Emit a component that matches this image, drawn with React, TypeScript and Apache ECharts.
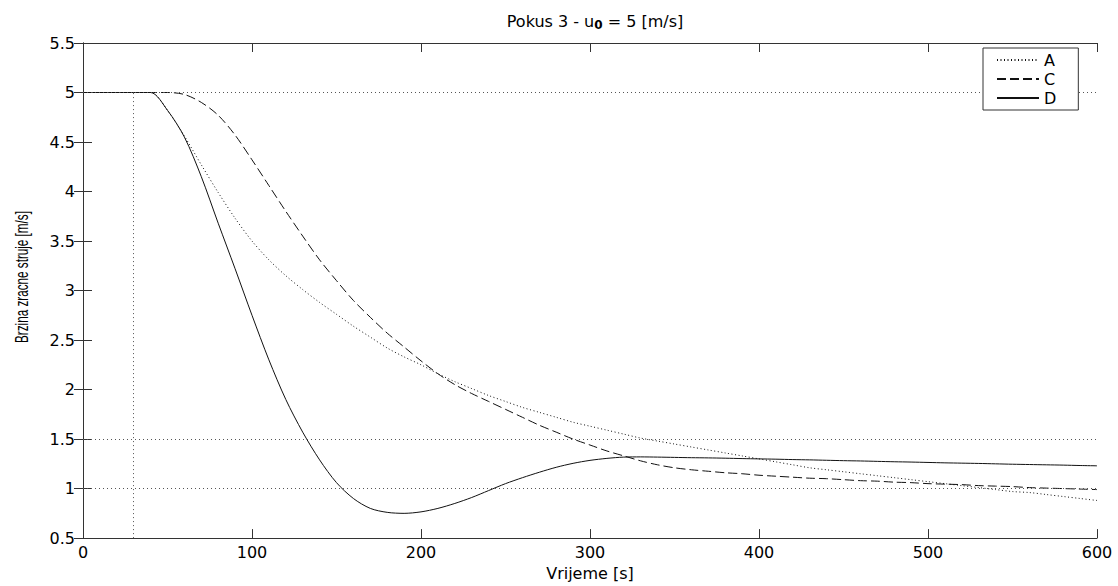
import React, { useEffect, useRef } from "react";
import * as echarts from "echarts";

const time = [0, 10, 20, 30, 40, 50, 60, 70, 80, 90, 100, 110, 120, 130, 140, 150, 160, 170, 180, 190, 200, 210, 220, 230, 240, 250, 260, 270, 280, 290, 300, 310, 320, 330, 340, 350, 360, 370, 380, 390, 400, 410, 420, 430, 440, 450, 460, 470, 480, 490, 500, 510, 520, 530, 540, 550, 560, 570, 580, 590, 600];
const seriesA = [5, 5, 5, 5, 5, 4.82, 4.56, 4.27, 3.99, 3.73, 3.5, 3.31, 3.15, 3.01, 2.88, 2.76, 2.64, 2.53, 2.42, 2.33, 2.25, 2.16, 2.08, 2.01, 1.94, 1.88, 1.82, 1.77, 1.72, 1.67, 1.63, 1.59, 1.55, 1.51, 1.48, 1.45, 1.42, 1.39, 1.36, 1.33, 1.3, 1.27, 1.24, 1.21, 1.19, 1.17, 1.15, 1.13, 1.11, 1.09, 1.07, 1.05, 1.03, 1.01, 0.99, 0.97, 0.96, 0.94, 0.92, 0.9, 0.88];
const seriesC = [5, 5, 5, 5, 5, 5, 4.98, 4.9, 4.77, 4.57, 4.32, 4.06, 3.8, 3.55, 3.31, 3.1, 2.9, 2.73, 2.57, 2.43, 2.29, 2.16, 2.05, 1.96, 1.88, 1.8, 1.72, 1.64, 1.57, 1.5, 1.44, 1.38, 1.33, 1.28, 1.24, 1.21, 1.19, 1.175, 1.16, 1.15, 1.135, 1.125, 1.115, 1.105, 1.1, 1.09, 1.08, 1.075, 1.065, 1.06, 1.05, 1.045, 1.04, 1.03, 1.025, 1.02, 1.01, 1.005, 1.0, 0.995, 0.99];
const seriesD = [5, 5, 5, 5, 5, 4.82, 4.55, 4.15, 3.68, 3.22, 2.75, 2.3, 1.9, 1.57, 1.29, 1.06, 0.9, 0.8, 0.76, 0.75, 0.765, 0.8, 0.85, 0.91, 0.98, 1.05, 1.11, 1.165, 1.215, 1.255, 1.285, 1.305, 1.318, 1.32, 1.318, 1.315, 1.312, 1.31, 1.307, 1.303, 1.3, 1.297, 1.293, 1.29, 1.286, 1.282, 1.279, 1.275, 1.271, 1.268, 1.264, 1.26, 1.257, 1.254, 1.25, 1.246, 1.243, 1.24, 1.237, 1.233, 1.23];
const seriesNames = ["A", "C", "D"];
const refLevels = [5, 1.5, 1];
const startTime = 30;
const xTicks = { min: 0, max: 600, interval: 100 };
const yTicks = { min: 0.5, max: 5.5, interval: 0.5 };

const FONT = "DejaVu Sans";

export default function App() {
  const ref = useRef<HTMLDivElement>(null);
  useEffect(() => {
    if (!ref.current) return;
    const chart = echarts.init(ref.current, undefined, { renderer: "svg" });
    const zip = (ys: number[]) => time.map((t, i) => [t, ys[i]]);
    const axisLine = { show: true, lineStyle: { color: "#333", width: 1 } };
    const axisTick = { show: true, inside: true, length: 9, lineStyle: { color: "#333", width: 1 } };
    const refStyle = { color: "#555", width: 1, type: [1, 3] as any };
    const lineSeries = (name: string, ys: number[], type: any) => ({
      name,
      type: "line",
      data: zip(ys),
      showSymbol: false,
      symbol: "none",
      smooth: 0.3,
      lineStyle: { color: "#111", width: 1, type },
      itemStyle: { color: "#111" },
      z: 3,
    });
    chart.setOption({
      animation: false,
      backgroundColor: "#fff",
      title: {
        text: "{a|Pokus 3 - u}{s|0}{a| = 5 [m/s]}",
        left: 590,
        textAlign: "center",
        top: 6,
        textStyle: {
          fontWeight: "normal",
          rich: {
            a: { fontFamily: FONT, fontSize: 16, fontWeight: "normal", color: "#000", lineHeight: 20 },
            s: { fontFamily: FONT, fontSize: 12, fontWeight: "bold", color: "#000", verticalAlign: "bottom", padding: [8, 0, 0, 0], lineHeight: 20 },
          },
        },
      },
      legend: {
        orient: "vertical",
        left: 983,
        top: 48,
        data: seriesNames,
        padding: [4, 22, 4, 13],
        itemWidth: 42,
        itemHeight: 14,
        itemGap: 3,
        itemTextGap: 13,
        borderColor: "#333",
        borderWidth: 1,
        borderRadius: 0,
        backgroundColor: "#fff",
        itemStyle: { color: "rgba(0,0,0,0)", borderWidth: 0, opacity: 0 },
        textStyle: { fontFamily: FONT, fontSize: 16, color: "#000" },
        z: 10,
      },
      grid: { left: 83, right: 21, top: 43, bottom: 41, containLabel: false },
      xAxis: [
        {
          type: "value",
          ...xTicks,
          position: "bottom",
          axisLine,
          axisTick,
          splitLine: { show: false },
          axisLabel: { fontFamily: FONT, fontSize: 16, color: "#000", margin: 6 },
          name: "Vrijeme [s]",
          nameLocation: "middle",
          nameGap: 23,
          nameTextStyle: { fontFamily: FONT, fontSize: 16, color: "#000" },
        },
        {
          type: "value",
          ...xTicks,
          position: "top",
          axisLine,
          axisTick,
          splitLine: { show: false },
          axisLabel: { show: false },
        },
      ],
      yAxis: [
        {
          type: "value",
          ...yTicks,
          position: "left",
          axisLine,
          axisTick,
          splitLine: { show: false },
          axisLabel: { fontFamily: FONT, fontSize: 16, color: "#000", margin: 8 },
        },
        {
          type: "value",
          ...yTicks,
          position: "right",
          axisLine,
          axisTick,
          splitLine: { show: false },
          axisLabel: { show: false },
        },
      ],
      graphic: [
        {
          type: "text",
          x: 21,
          y: 277,
          rotation: Math.PI / 2,
          scaleX: 0.65,
          style: {
            text: "Brzina zracne struje [m/s]",
            fontFamily: "Liberation Sans",
            fontSize: 18,
            fill: "#000",
            textAlign: "center",
            textVerticalAlign: "middle",
          },
        },
      ],
      series: [
        {
          name: "ref",
          type: "line",
          data: [],
          silent: true,
          markLine: {
            silent: true,
            symbol: "none",
            label: { show: false },
            lineStyle: refStyle,
            data: [
              ...refLevels.map((v) => ({ yAxis: v, lineStyle: refStyle })),
              [
                { coord: [startTime, yTicks.min], lineStyle: refStyle },
                { coord: [startTime, refLevels[0]] },
              ],
            ],
          },
          z: 1,
        },
        lineSeries(seriesNames[0], seriesA, [1, 2.5]),
        lineSeries(seriesNames[1], seriesC, [9, 4]),
        lineSeries(seriesNames[2], seriesD, "solid"),
      ],
    });
    return () => chart.dispose();
  }, []);
  return <div ref={ref} style={{ width: 1118, height: 586, position: "absolute", left: 0, top: 0 }} />;
}
